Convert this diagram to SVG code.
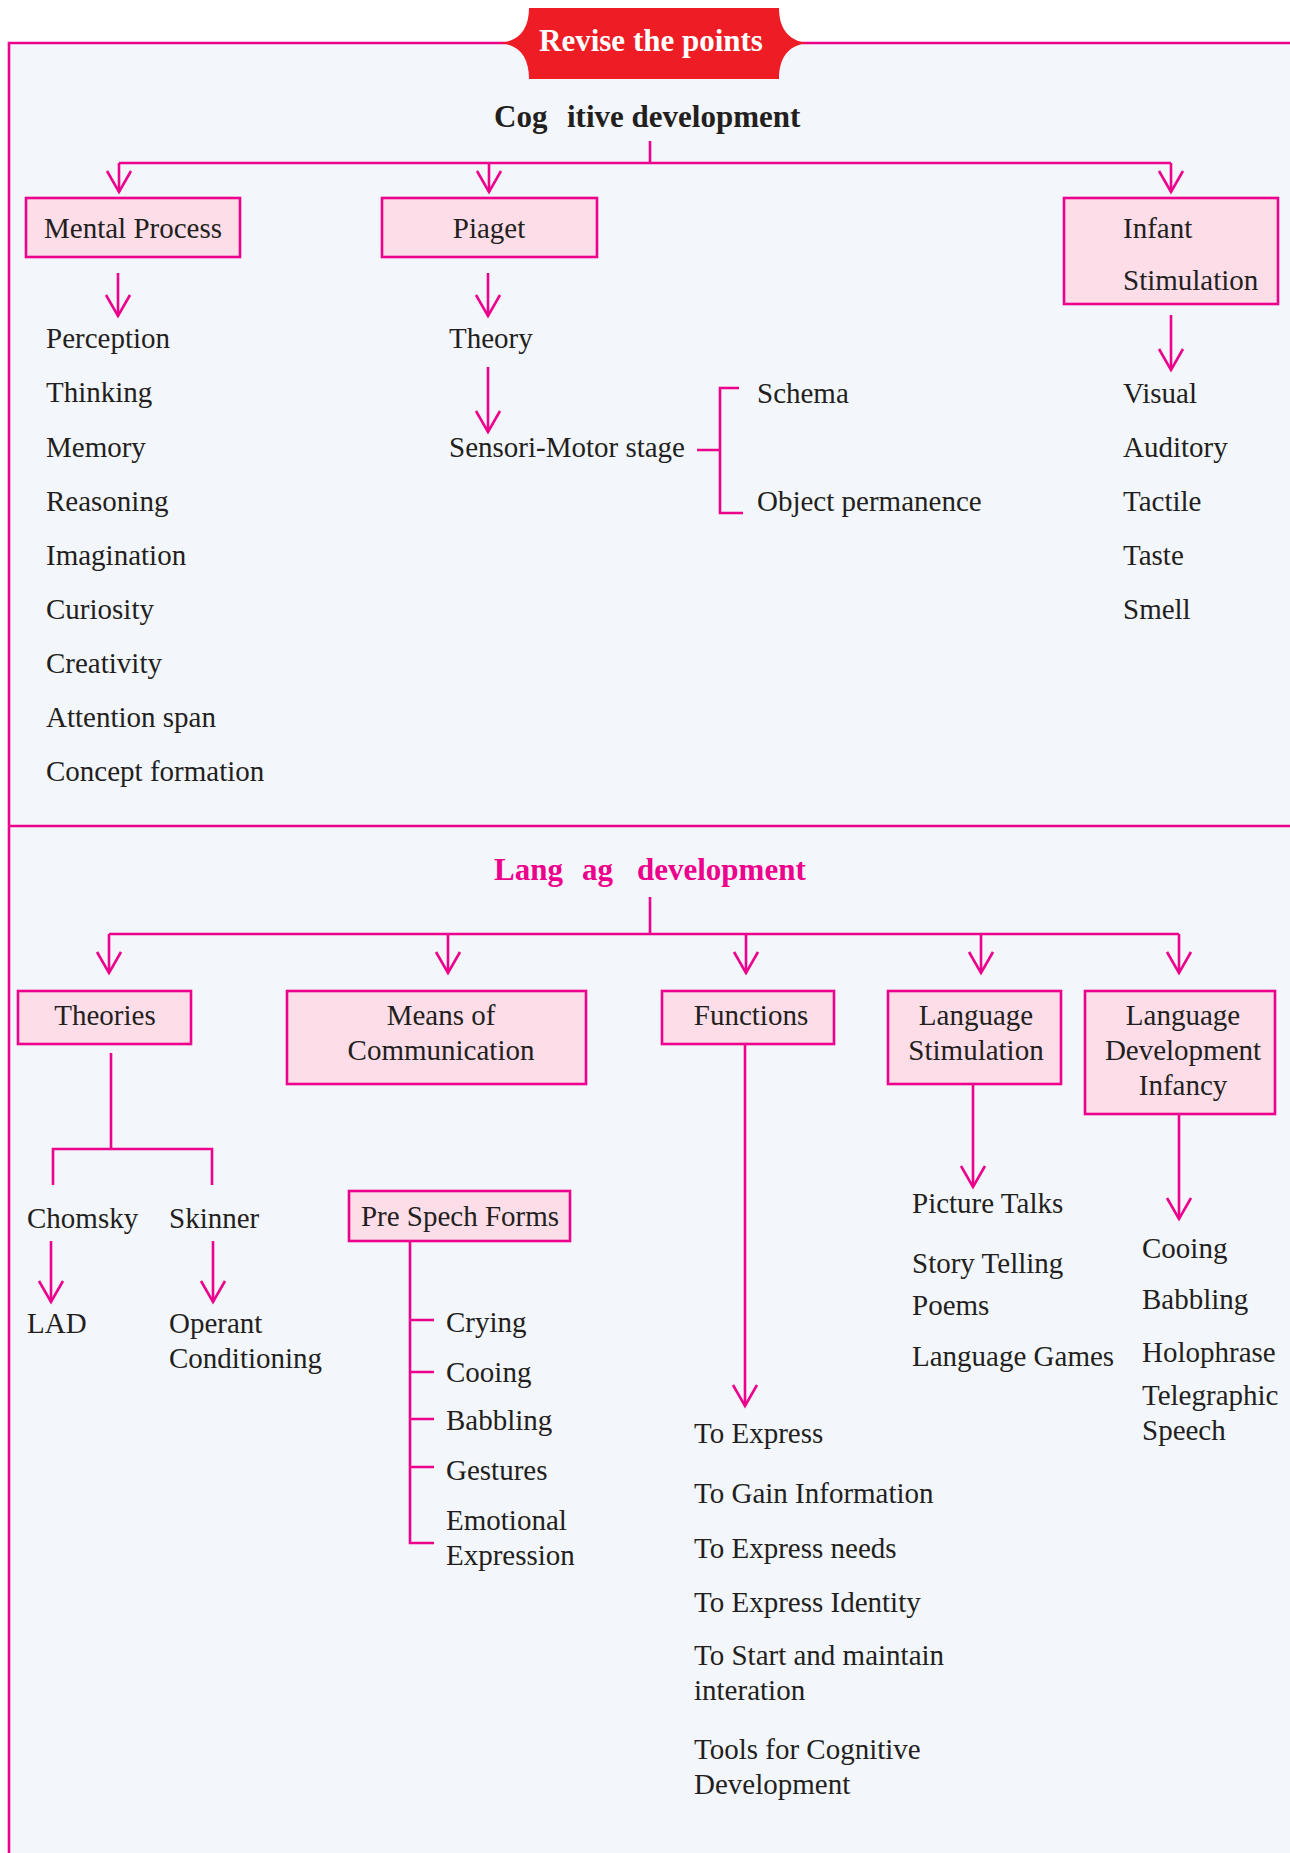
<svg xmlns="http://www.w3.org/2000/svg" width="1290" height="1853" viewBox="0 0 1290 1853">
<style>
.t{font-family:"Liberation Serif","Times New Roman",serif;font-size:29px;fill:#231F20}
.c{text-anchor:middle}
.h{font-family:"Liberation Serif","Times New Roman",serif;font-size:31px;font-weight:bold}
.box{fill:#FCDDE8;stroke:#EC008C;stroke-width:2.6}
.ln{fill:none;stroke:#EC008C;stroke-width:2.6}
.ar{fill:none;stroke:#EC008C;stroke-width:2.6;marker-end:url(#ah)}
</style>
<defs>
<marker id="ah" markerUnits="userSpaceOnUse" markerWidth="40" markerHeight="40" refX="0" refY="0" orient="auto" overflow="visible">
<path d="M-21,-12 L0,0 L-21,12" fill="none" stroke="#EC008C" stroke-width="2.6"/>
</marker>
</defs>
<rect x="0" y="0" width="1290" height="1853" fill="#FFFFFF"/>
<rect x="9" y="43" width="1281" height="1810" fill="#F3F6FB"/>
<g id="frame">
<path class="ln" d="M9,1853 V43 H1290"/>
<path class="ln" d="M9,826 H1290"/>
</g>
<g id="badge">
<path d="M529,8 H779 C779,30 790,43 812,43 C790,43 779,56 779,79 H529 C529,56 518,43 496,43 C518,43 529,30 529,8 Z" fill="#EE1C25"/>
<text class="h c" x="651" y="51" fill="#FFFFFF" font-size="30">Revise the points</text>
</g>

<g id="connectors">
<!-- cognitive -->
<path class="ln" d="M650,141 V163"/>
<path class="ln" d="M119,163 H1171"/>
<path class="ar" d="M119,163 V192"/>
<path class="ar" d="M489,163 V192"/>
<path class="ar" d="M1171,163 V192"/>
<path class="ar" d="M118,273 V316"/>
<path class="ar" d="M488,273 V316"/>
<path class="ar" d="M488,367 V432"/>
<path class="ar" d="M1171,315 V370"/>
<path class="ln" d="M697,450 H720 M739,388 H720 V513 H743"/>
<!-- language -->
<path class="ln" d="M650,897 V934"/>
<path class="ln" d="M109,934 H1179"/>
<path class="ar" d="M109,934 V973"/>
<path class="ar" d="M448,934 V973"/>
<path class="ar" d="M746,934 V973"/>
<path class="ar" d="M981,934 V973"/>
<path class="ar" d="M1179,934 V973"/>
<path class="ln" d="M111,1053 V1149 M53,1185 V1149 H212 V1185"/>
<path class="ar" d="M51,1241 V1302"/>
<path class="ar" d="M213,1241 V1302"/>
<path class="ln" d="M410,1241 V1543 H434 M410,1320 H434 M410,1372 H434 M410,1419 H434 M410,1467 H434"/>
<path class="ar" d="M745,1044 V1406"/>
<path class="ar" d="M973,1084 V1187"/>
<path class="ar" d="M1179,1114 V1219"/>
</g>

<g id="title-cognitive">
<text class="h" fill="#231F20"><tspan x="494" y="127">Cog</tspan><tspan x="567" y="127">itive development</tspan></text>
</g>
<g id="mental-process">
<rect class="box" x="26" y="198" width="214" height="59"/>
<text class="t c" x="133" y="238">Mental Process</text>
</g>
<g id="piaget">
<rect class="box" x="382" y="198" width="215" height="59"/>
<text class="t c" x="489" y="238">Piaget</text>
</g>
<g id="infant-stimulation">
<rect class="box" x="1064" y="198" width="214" height="106"/>
<text class="t" x="1123" y="238">Infant</text>
<text class="t" x="1123" y="290">Stimulation</text>
</g>
<g id="mental-items">
<text class="t" x="46" y="348">Perception</text>
<text class="t" x="46" y="402">Thinking</text>
<text class="t" x="46" y="457">Memory</text>
<text class="t" x="46" y="511">Reasoning</text>
<text class="t" x="46" y="565">Imagination</text>
<text class="t" x="46" y="619">Curiosity</text>
<text class="t" x="46" y="673">Creativity</text>
<text class="t" x="46" y="727">Attention span</text>
<text class="t" x="46" y="781">Concept formation</text>
</g>
<g id="theory"><text class="t" x="449" y="348">Theory</text></g>
<g id="sensori-motor"><text class="t" x="449" y="457">Sensori-Motor stage</text></g>
<g id="schema"><text class="t" x="757" y="403">Schema</text></g>
<g id="object-permanence"><text class="t" x="757" y="511">Object permanence</text></g>
<g id="infant-items">
<text class="t" x="1123" y="403">Visual</text>
<text class="t" x="1123" y="457">Auditory</text>
<text class="t" x="1123" y="511">Tactile</text>
<text class="t" x="1123" y="565">Taste</text>
<text class="t" x="1123" y="619">Smell</text>
</g>

<g id="title-language">
<text class="h" fill="#EC008C"><tspan x="494" y="880">Lang</tspan><tspan x="582" y="880">ag</tspan><tspan x="637" y="880">development</tspan></text>
</g>
<g id="theories">
<rect class="box" x="18" y="991" width="173" height="53"/>
<text class="t c" x="105" y="1025">Theories</text>
</g>
<g id="means">
<rect class="box" x="287" y="991" width="299" height="93"/>
<text class="t c" x="441" y="1025">Means of</text>
<text class="t c" x="441" y="1060">Communication</text>
</g>
<g id="functions">
<rect class="box" x="662" y="991" width="172" height="53"/>
<text class="t c" x="751" y="1025">Functions</text>
</g>
<g id="language-stimulation">
<rect class="box" x="888" y="991" width="173" height="93"/>
<text class="t c" x="976" y="1025">Language</text>
<text class="t c" x="976" y="1060">Stimulation</text>
</g>
<g id="language-development-infancy">
<rect class="box" x="1085" y="991" width="190" height="123"/>
<text class="t c" x="1183" y="1025">Language</text>
<text class="t c" x="1183" y="1060">Development</text>
<text class="t c" x="1183" y="1095">Infancy</text>
</g>
<g id="chomsky"><text class="t" x="27" y="1228">Chomsky</text></g>
<g id="skinner"><text class="t" x="169" y="1228">Skinner</text></g>
<g id="lad"><text class="t" x="27" y="1333">LAD</text></g>
<g id="operant">
<text class="t" x="169" y="1333">Operant</text>
<text class="t" x="169" y="1368">Conditioning</text>
</g>
<g id="pre-speech-forms">
<rect class="box" x="349" y="1191" width="221" height="50"/>
<text class="t c" x="460" y="1226">Pre Spech Forms</text>
</g>
<g id="pre-speech-items">
<text class="t" x="446" y="1332">Crying</text>
<text class="t" x="446" y="1382">Cooing</text>
<text class="t" x="446" y="1430">Babbling</text>
<text class="t" x="446" y="1480">Gestures</text>
<text class="t" x="446" y="1530">Emotional</text>
<text class="t" x="446" y="1565">Expression</text>
</g>
<g id="function-items">
<text class="t" x="694" y="1443">To Express</text>
<text class="t" x="694" y="1503">To Gain Information</text>
<text class="t" x="694" y="1558">To Express needs</text>
<text class="t" x="694" y="1612">To Express Identity</text>
<text class="t" x="694" y="1665">To Start and maintain</text>
<text class="t" x="694" y="1700">interation</text>
<text class="t" x="694" y="1759">Tools for Cognitive</text>
<text class="t" x="694" y="1794">Development</text>
</g>
<g id="stimulation-items">
<text class="t" x="912" y="1213">Picture Talks</text>
<text class="t" x="912" y="1273">Story Telling</text>
<text class="t" x="912" y="1315">Poems</text>
<text class="t" x="912" y="1366">Language Games</text>
</g>
<g id="infancy-items">
<text class="t" x="1142" y="1258">Cooing</text>
<text class="t" x="1142" y="1309">Babbling</text>
<text class="t" x="1142" y="1362">Holophrase</text>
<text class="t" x="1142" y="1405">Telegraphic</text>
<text class="t" x="1142" y="1440">Speech</text>
</g>
</svg>
